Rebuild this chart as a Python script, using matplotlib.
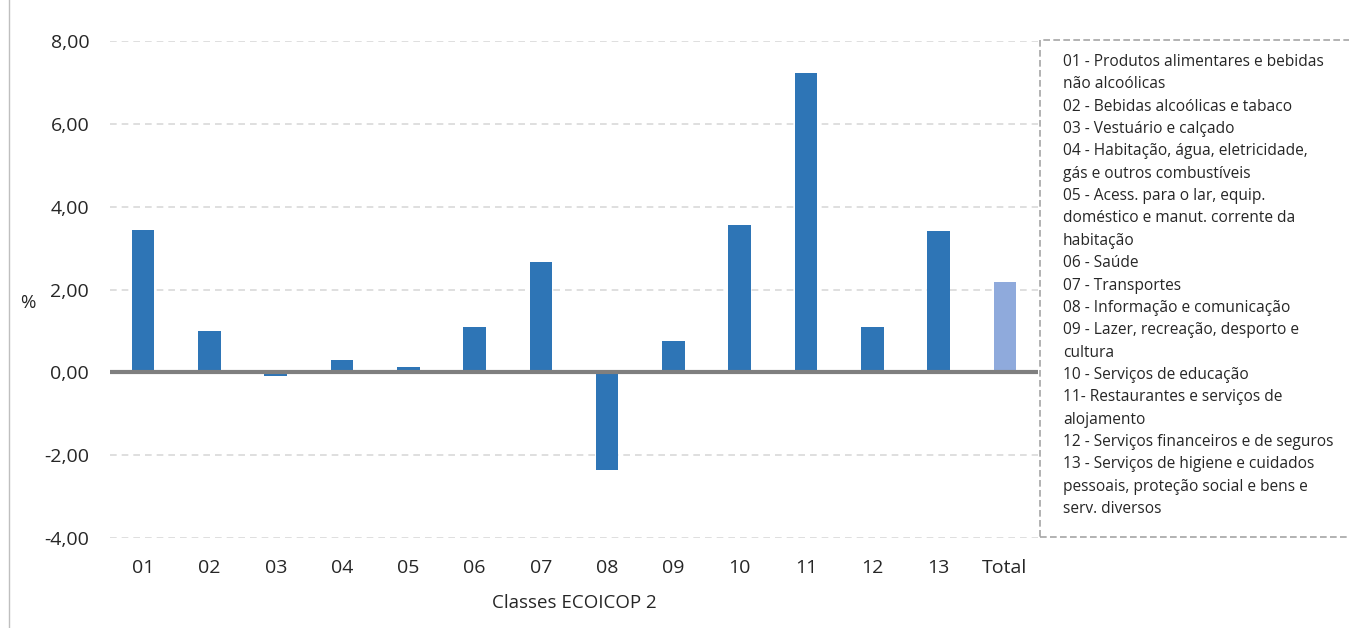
import matplotlib
matplotlib.use("Agg")
import matplotlib.pyplot as plt
from matplotlib.patches import Rectangle
from matplotlib.ticker import FuncFormatter

# Dados (variação %, classes ECOICOP 2)
categorias = ["01", "02", "03", "04", "05", "06", "07", "08", "09", "10", "11", "12", "13", "Total"]
valores = [3.44, 0.99, -0.10, 0.30, 0.14, 1.09, 2.66, -2.36, 0.76, 3.55, 7.23, 1.09, 3.42, 2.17]
y_ticks = [-4, -2, 0, 2, 4, 6, 8]

legenda = [
    "01 - Produtos alimentares e bebidas",
    "não alcoólicas",
    "02 - Bebidas alcoólicas e tabaco",
    "03 - Vestuário e calçado",
    "04 - Habitação, água, eletricidade,",
    "gás e outros combustíveis",
    "05 - Acess. para o lar, equip.",
    "doméstico e manut. corrente da",
    "habitação",
    "06 - Saúde",
    "07 - Transportes",
    "08 - Informação e comunicação",
    "09 - Lazer, recreação, desporto e",
    "cultura",
    "10 - Serviços de educação",
    "11- Restaurantes e serviços de",
    "alojamento",
    "12 - Serviços financeiros e de seguros",
    "13 - Serviços de higiene e cuidados",
    "pessoais, proteção social e bens e",
    "serv. diversos",
]

plt.rcParams['font.family'] = ['Open Sans', 'DejaVu Sans']

W, H = 1349, 628
fig = plt.figure(figsize=(W / 100, H / 100), dpi=100)
fig.patch.set_facecolor("white")

# área do gráfico (em px da imagem de referência)
left, right, top, bottom = 110, 1038, 41, 538
ax = fig.add_axes([left / W, 1 - bottom / H, (right - left) / W, (bottom - top) / H])

cores = ["#2E75B6"] * (len(categorias) - 1) + ["#8FAADC"]
x = list(range(len(categorias)))
ax.bar(x, valores, width=0.34, color=cores, zorder=3)

ax.set_xlim(-0.5, len(categorias) - 0.5)
ax.set_ylim(-4, 8)
ax.set_yticks(y_ticks)
ax.yaxis.set_major_formatter(FuncFormatter(lambda v, p: f"{v:.2f}".replace(".", ",")))
ax.set_xticks(x)
ax.set_xticklabels(categorias)

ax.grid(axis="y", color="#D9D9D9", linestyle=(0, (4, 3)), linewidth=1.2, zorder=0)
ax.axhline(0, color="#7F7F7F", linewidth=3, zorder=4)

for s in ax.spines.values():
    s.set_visible(False)
ax.tick_params(axis="both", length=0, labelsize=14, colors="#262626")
ax.tick_params(axis="y", pad=15)
ax.tick_params(axis="x", pad=15)

ax.set_xlabel("Classes ECOICOP 2", fontsize=13.5, color="#262626", labelpad=12)
fig.text(28 / W, 1 - 303 / H, "%", fontsize=13.5, color="#262626", ha="center", va="center")

# linha vertical à esquerda
fig.add_artist(plt.Line2D([9 / W, 9 / W], [0, 1], color="#BFBFBF", linewidth=1))

# caixa de legenda
fig.add_artist(Rectangle((1040 / W, 1 - 537 / H), 330 / W, 497 / H, transform=fig.transFigure,
                         fill=False, edgecolor="#A6A6A6", linestyle=(0, (4, 2)), linewidth=1.2))
y0, passo = 62, 22.35
for i, linha in enumerate(legenda):
    fig.text(1063 / W, 1 - (y0 + i * passo) / H, linha, fontsize=11.2, color="#262626",
             ha="left", va="center")

fig.savefig("out.png", dpi=100)
